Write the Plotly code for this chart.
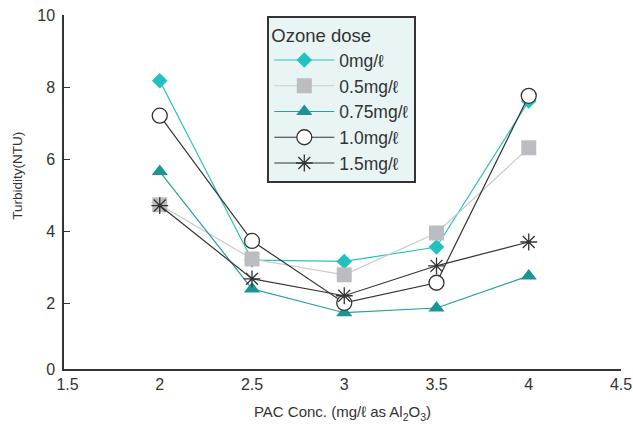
import plotly.graph_objects as go

pac = [2, 2.5, 3, 3.5, 4]
dose_labels = ["0mg/ℓ", "0.5mg/ℓ", "0.75mg/ℓ", "1.0mg/ℓ", "1.5mg/ℓ"]
turb_0 = [8.18, 3.21, 3.17, 3.57, 7.62]
turb_05 = [4.74, 3.24, 2.80, 3.96, 6.32]
turb_075 = [5.66, 2.41, 1.75, 1.88, 2.77]
turb_10 = [7.21, 3.74, 2.02, 2.58, 7.76]
turb_15 = [4.72, 2.69, 2.22, 3.05, 3.71]

x_ticks = [1.5, 2, 2.5, 3, 3.5, 4, 4.5]
x_tick_text = ["1.5", "2", "2.5", "3", "3.5", "4", "4.5"]
y_tick_text = ["0", "2", "4", "6", "8", "10"]
y_ticks = [0.19, 2, 4, 6, 8, 10]

FONT = "Liberation Sans, Arial, sans-serif"

styles = [
    dict(line=dict(color="#2cc0c0", width=1.2),
         marker=dict(symbol="diamond", size=12, color="#22c0c0")),
    dict(line=dict(color="#cbcbcb", width=1.2),
         marker=dict(symbol="square", size=15, color="#bcbdc0")),
    dict(line=dict(color="#2a9e9e", width=1.2),
         marker=dict(symbol="triangle-up", size=14, color="#1a9494")),
    dict(line=dict(color="#333333", width=1.2),
         marker=dict(symbol="circle", size=15, color="white",
                     line=dict(color="#333333", width=1.3))),
    dict(line=dict(color="#333333", width=1.2),
         marker=dict(symbol="asterisk-open", size=14,
                     line=dict(color="#333333", width=1.3))),
]

series = [turb_0, turb_05, turb_075, turb_10, turb_15]

fig = go.Figure()
for name, vals, st in zip(dose_labels, series, styles):
    fig.add_trace(go.Scatter(x=pac, y=vals, name=name, mode="lines+markers",
                             line=st["line"], marker=st["marker"]))

fig.add_annotation(
    text="Turbidity(NTU)", textangle=-90, showarrow=False,
    xref="paper", yref="paper", x=-0.085, y=0.545,
    xanchor="center", yanchor="middle",
    font=dict(size=13.5, color="#333333", family=FONT),
)

fig.update_layout(
    width=633, height=431,
    margin=dict(l=64, r=12, t=15, b=62, autoexpand=False),
    paper_bgcolor="white", plot_bgcolor="white",
    font=dict(family=FONT, size=15, color="#333333"),
    showlegend=True,
    legend=dict(
        title=dict(text="Ozone dose", font=dict(size=18.5)),
        x=0.365, y=0.997, xanchor="left", yanchor="top",
        bgcolor="#e9f5f4", bordercolor="#333333", borderwidth=2,
        font=dict(size=17.5), tracegroupgap=0, itemwidth=60,
    ),
    xaxis=dict(
        range=[1.481, 4.5], tickvals=x_ticks, ticktext=x_tick_text,
        showgrid=False, zeroline=False, showline=True,
        linecolor="#333333", linewidth=1.5, ticks="",
        tickfont=dict(size=16), automargin=False,
        title=dict(text="PAC Conc. (mg/ℓ as Al<sub>2</sub>O<sub>3</sub>)",
                   font=dict(size=15), standoff=15),
    ),
    yaxis=dict(
        range=[0.19, 10], tickvals=y_ticks, ticktext=y_tick_text,
        showgrid=False, zeroline=False, showline=True,
        linecolor="#333333", linewidth=1.5, automargin=False,
        ticks="inside", ticklen=6, tickcolor="#333333", tickwidth=1.3,
        tickfont=dict(size=16), ticklabelstandoff=4,
    ),
)

fig.write_html("out.html")
